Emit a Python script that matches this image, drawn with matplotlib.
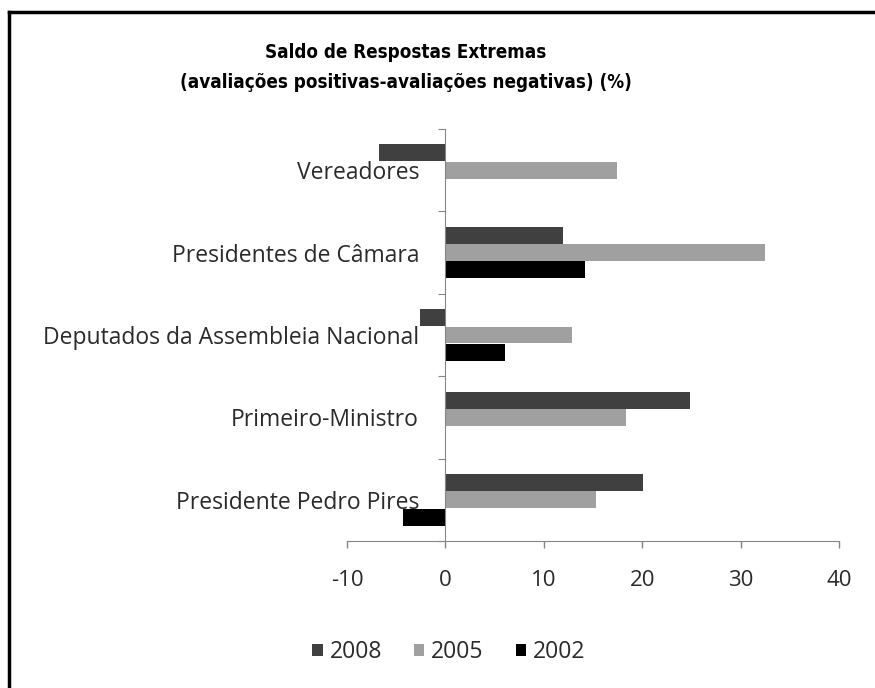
import numpy as np
import matplotlib
matplotlib.use("Agg")
import matplotlib.pyplot as plt
from matplotlib.lines import Line2D
from matplotlib.ticker import FixedLocator

categories = ["Vereadores", "Presidentes de Câmara", "Deputados da Assembleia Nacional",
              "Primeiro-Ministro", "Presidente Pedro Pires"]
years = ["2008", "2005", "2002"]
v2008 = [-6.7, 12.0, -2.6, 24.9, 20.1]
v2005 = [17.4, 32.5, 12.9, 18.4, 15.3]
v2002 = [0.0, 14.2, 6.1, 0.0, -4.3]
colors = ["#404040", "#a0a0a0", "#000000"]

plt.rcParams['font.family'] = ['Open Sans', 'DejaVu Sans']
plt.rcParams['axes.unicode_minus'] = False

fig = plt.figure(figsize=(8.75, 6.88), dpi=100)
ax = fig.add_axes([347/875, 1-541/688, (839-347)/875, (541-129)/688])

y = np.arange(len(categories))
h = 0.205
off = 0.21
for i, (vals, col, yr) in enumerate(zip([v2008, v2005, v2002], colors, years)):
    ax.barh(y + (i - 1) * off, vals, height=h, color=col, label=yr)

ax.set_xlim(-10, 40)
ax.set_ylim(len(categories) - 0.5, -0.5)
ax.set_xticks([-10, 0, 10, 20, 30, 40])
ax.tick_params(axis='x', labelsize=16, colors='#868686', labelcolor='#2a2a2a',
               length=5, width=1, pad=16)

ax.spines['left'].set_position(('data', 0))
for s in ['top', 'right']:
    ax.spines[s].set_visible(False)
for s in ['left', 'bottom']:
    ax.spines[s].set_color('#868686')

ax.yaxis.set_major_locator(FixedLocator(np.arange(-0.5, len(categories), 1.0)))
ax.yaxis.set_minor_locator(FixedLocator(y))
ax.set_yticklabels([], minor=False)
ax.set_yticklabels(categories, minor=True)
ax.tick_params(axis='y', which='major', length=5, color='#868686')
ax.tick_params(axis='y', which='minor', length=0, pad=19, labelsize=16.5, labelcolor='#2a2a2a')

title_font = dict(fontsize=13.5, fontweight='bold', fontstretch='condensed',
                  family=['DejaVu Sans'])
fig.text(406/875, 1-53/688, "Saldo de Respostas Extremas", ha='center', va='center',
         **title_font)
fig.text(406/875, 1-83/688, "(avaliações positivas-avaliações negativas) (%)", ha='center',
         va='center', **title_font)

fig.legend(loc='center', bbox_to_anchor=(449/875, 1-652/688), ncol=3, frameon=False,
           fontsize=16.5, handlelength=0.45, handleheight=0.45, handletextpad=0.3,
           columnspacing=1.4, labelcolor='#2a2a2a')

# black frame at top and left edges
fig.add_artist(Line2D([9/875, 1], [1-12/688, 1-12/688], color='black', lw=2.5,
                      transform=fig.transFigure))
fig.add_artist(Line2D([9/875, 9/875], [0, 1-12/688], color='black', lw=2.5,
                      transform=fig.transFigure))

fig.savefig("out.png", dpi=100)
